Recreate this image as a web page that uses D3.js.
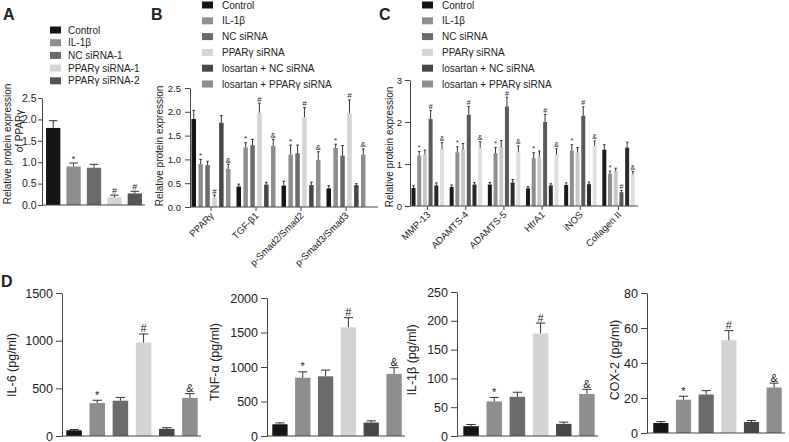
<!DOCTYPE html>
<html><head><meta charset="utf-8">
<script src="https://cdn.jsdelivr.net/npm/d3@7"></script>
<style>body{margin:0;background:#fff}svg{display:block}text{font-family:"Liberation Sans",Arial,sans-serif;fill:#222}</style>
</head><body><svg id="c" width="789" height="442"></svg>
<script>
// ---------- data ----------
const aCategories = ["Control","IL-1β","NC siRNA-1","PPARγ siRNA-1","PPARγ siRNA-2"];
const aValues = [1.80,0.90,0.87,0.18,0.27];
const aErrors = [0.17,0.08,0.08,0.05,0.05];
const aMarks = ["","*","","#","#"];
const aTicks = [0,0.5,1.0,1.5,2.0,2.5];

const series = ["Control","IL-1β","NC siRNA","PPARγ siRNA","losartan + NC siRNA","losartan + PPARγ siRNA"];
const seriesMarks = ["","*","","#","","&"];

const bGroups = ["PPARγ","TGF-β1","p-Smad2/Smad2","p-Smad3/Smad3"];
const bValues = [
  [1.85,0.90,0.88,0.20,1.77,0.80],
  [0.43,1.25,1.30,1.98,0.47,1.28],
  [0.45,1.10,1.13,1.89,0.46,0.99],
  [0.39,1.24,1.08,1.97,0.46,1.10]];
const bErrors = [
  [0.18,0.10,0.08,0.05,0.15,0.10],
  [0.05,0.10,0.12,0.20,0.05,0.14],
  [0.09,0.20,0.17,0.20,0.06,0.17],
  [0.06,0.08,0.21,0.28,0.03,0.12]];
const bTicks = [0,0.5,1.0,1.5,2.0,2.5];

const cGroups = ["MMP-13","ADAMTS-4","ADAMTS-5","HtrA1","iNOS","Collagen II"];
const cValues = [
  [0.43,1.20,1.23,2.07,0.49,1.36],
  [0.45,1.28,1.34,2.17,0.51,1.39],
  [0.51,1.26,1.40,2.37,0.56,1.29],
  [0.42,1.14,1.18,2.00,0.49,1.22],
  [0.50,1.32,1.27,2.15,0.52,1.43],
  [1.34,0.77,0.82,0.33,1.39,0.75]];
const cErrors = [
  [0.05,0.10,0.10,0.20,0.06,0.15],
  [0.05,0.13,0.15,0.20,0.05,0.14],
  [0.05,0.13,0.16,0.22,0.07,0.14],
  [0.04,0.13,0.13,0.18,0.04,0.14],
  [0.05,0.14,0.12,0.21,0.05,0.12],
  [0.12,0.06,0.08,0.04,0.13,0.07]];
const cTicks = [0,1,2,3];

const dIL6 = [60,345,370,980,75,400];
const dIL6Err = [8,30,35,90,12,45];
const dTNF = [170,845,865,1575,195,900];
const dTNFErr = [20,85,90,140,25,90];
const dIL1b = [17,60,68,178,21,73];
const dIL1bErr = [3,7,8,18,3,8];
const dCOX2 = [5.7,19,22,53,6.3,26];
const dCOX2Err = [0.8,2,2.2,5.5,0.8,2.5];

// ---------- styles ----------
const aColors = ["#151515","#8e8e8e","#6b6b6b","#d4d4d4","#555555"];
const bColors = ["#151515","#8e8e8e","#6b6b6b","#d4d4d4","#474747","#8e8e8e"];
const cBarColors = ["#1a1a1a","#8e8e8e","#c8c8c8","#5a5a5a","#2a2a2a","#dedede"];
const axisColor = "#444";

const svg = d3.select("#c");

function yAxis(g, y, x0, ticks, fmt, fs, tl, off){
  const ax = g.append("g").attr("transform",`translate(${x0},0)`)
    .call(d3.axisLeft(y).tickValues(ticks).tickFormat(fmt).tickSize(tl).tickSizeOuter(0));
  ax.select(".domain").attr("stroke",axisColor);
  ax.selectAll(".tick line").attr("stroke",axisColor);
  ax.selectAll(".tick text").attr("font-size",fs).attr("fill","#222").attr("font-family","Liberation Sans, Arial, sans-serif").attr("x",-off);
  return ax;
}
function hline(g,x1,x2,y){ g.append("line").attr("x1",x1).attr("x2",x2).attr("y1",y).attr("y2",y).attr("stroke",axisColor); }
function bar(g,x,w,y,v,e,color,mark,ms){
  const top=y(v), et=y(v+e), cx=x+w/2;
  g.append("rect").attr("x",x).attr("y",top).attr("width",w).attr("height",y(0)-top).attr("fill",color);
  g.append("line").attr("x1",cx).attr("x2",cx).attr("y1",top).attr("y2",et).attr("stroke","#333").attr("stroke-width",1);
  g.append("line").attr("x1",cx-w*0.3).attr("x2",cx+w*0.3).attr("y1",et).attr("y2",et).attr("stroke","#333").attr("stroke-width",1);
  if(mark) g.append("text").attr("x",cx).attr("y",et-1.5).attr("text-anchor","middle").attr("font-size",ms).attr("fill","#333").text(mark);
}
function letter(t,x,y){ svg.append("text").attr("x",x).attr("y",y).attr("font-size",16).attr("font-weight","bold").attr("fill","#111").text(t); }
function legend(labels,colors,sx,y0,dy,tx){
  labels.forEach((l,i)=>{
    svg.append("rect").attr("x",sx).attr("y",y0+i*dy-3.5).attr("width",11).attr("height",7).attr("fill",colors[i]);
    svg.append("text").attr("x",tx).attr("y",y0+i*dy).attr("dy","0.35em").attr("font-size",10).text(l);
  });
}
function vlabel(txt,x,y,fs){
  svg.append("text").attr("transform",`translate(${x},${y}) rotate(-90)`).attr("text-anchor","middle").attr("dy","0.35em").attr("font-size",fs).text(txt);
}

// ---------- Panel A ----------
{
  const g = svg.append("g");
  letter("A",3,20);
  legend(aCategories,aColors,50,30,12.7,68);
  const y = d3.scaleLinear().domain([0,2.5]).range([205,98]);
  const x = d3.scaleBand().domain(aCategories).range([44,144]).paddingInner(0.3).paddingOuter(0.1);
  aCategories.forEach((c,i)=>bar(g,x(c),x.bandwidth(),y,aValues[i],aErrors[i],aColors[i],aMarks[i],9));
  yAxis(g,y,42,aTicks,d3.format(".1f"),10.5,4,5.5);
  hline(g,42,145,205);
  vlabel("Relative protein expression",7,144,10);
  vlabel("of PPARγ",19,131,10);
}

// ---------- Panel B ----------
{
  const g = svg.append("g");
  letter("B",151,20);
  legend(series,bColors,202,5,15.8,222);
  const y = d3.scaleLinear().domain([0,2.5]).range([207,88]);
  const x0 = d3.scaleBand().domain(bGroups).range([188.5,368.5]).padding(0);
  const x1 = d3.scaleBand().domain(series).range([3,42]).paddingInner(0.35);
  bGroups.forEach((gr,gi)=>series.forEach((s,si)=>
    bar(g,x0(gr)+x1(s),x1.bandwidth(),y,bValues[gi][si],bErrors[gi][si],bColors[si],seriesMarks[si],8)));
  yAxis(g,y,190,bTicks,d3.format(".1f"),9.5,5,9);
  hline(g,190,378,207);
  bGroups.forEach(gr=>{
    const cx=x0(gr)+x0.bandwidth()/2;
    g.append("line").attr("x1",cx).attr("x2",cx).attr("y1",207).attr("y2",211).attr("stroke",axisColor);
    g.append("text").attr("transform",`translate(${cx+1},${214}) rotate(-45)`).attr("text-anchor","end").attr("dy","0.35em").attr("font-size",9.5).text(gr);
  });
  vlabel("Relative protein expression",159,146,10);
}

// ---------- Panel C ----------
{
  const g = svg.append("g");
  letter("C",379,20);
  legend(series,bColors,422,5,15.8,442);
  const y = d3.scaleLinear().domain([0,3]).range([206,80]);
  const x0 = d3.scaleBand().domain(cGroups).range([408.5,637.5]).padding(0);
  const x1 = d3.scaleBand().domain(series).range([3,35.5]).paddingInner(0.3);
  cGroups.forEach((gr,gi)=>series.forEach((s,si)=>
    bar(g,x0(gr)+x1(s),x1.bandwidth(),y,cValues[gi][si],cErrors[gi][si],cBarColors[si],seriesMarks[si],7)));
  yAxis(g,y,410,cTicks,d3.format("d"),9.5,5,8);
  hline(g,410,638,206);
  cGroups.forEach(gr=>{
    const cx=x0(gr)+x0.bandwidth()/2;
    g.append("line").attr("x1",cx).attr("x2",cx).attr("y1",206).attr("y2",210).attr("stroke",axisColor);
    g.append("text").attr("transform",`translate(${cx+1},${213}) rotate(-45)`).attr("text-anchor","end").attr("dy","0.35em").attr("font-size",9.5).text(gr);
  });
  vlabel("Relative protein expression",389,147,10);
}

// ---------- Panel D ----------
letter("D",1,287);
function dPanel(vals,errs,ticks,max,axX,xr,yTop,yBot,label,lx,ly){
  const g = svg.append("g");
  const y = d3.scaleLinear().domain([0,max]).range([yBot,yTop]);
  const x = d3.scaleBand().domain(series).range(xr).paddingInner(0.33).paddingOuter(0.1);
  series.forEach((s,i)=>bar(g,x(s),x.bandwidth(),y,vals[i],errs[i],bColors[i],seriesMarks[i],11));
  yAxis(g,y,axX,ticks,d3.format("d"),12.5,6,9);
  hline(g,axX,xr[1]+1,yBot);
  vlabel(label,lx,ly,12.5);
}
dPanel(dIL6,dIL6Err,[0,500,1000,1500],1500,62,[64,200],293,436,"IL-6 (pg/ml)",12,365);
dPanel(dTNF,dTNFErr,[0,500,1000,1500,2000],2000,267,[270,404],298,436,"TNF-α (pg/ml)",215,362);
dPanel(dIL1b,dIL1bErr,[0,50,100,150,200,250],250,457,[461,597],292,436,"IL-1β (pg/ml)",412,360);
dPanel(dCOX2,dCOX2Err,[0,20,40,60,80],80,647,[651,784],293,433,"COX-2 (pg/ml)",615,360);
</script></body></html>
